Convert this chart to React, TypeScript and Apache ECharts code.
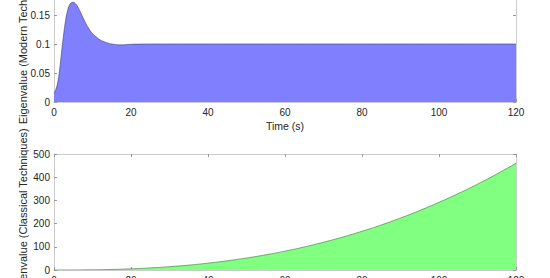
import React, { useEffect, useRef } from "react";
import * as echarts from "echarts";

const modernT = [0, 0.5, 1, 1.5, 2, 2.5, 3, 3.5, 4, 4.5, 5, 5.5, 6, 7, 8, 9, 10, 11, 12, 13, 14, 15, 16, 17, 18, 19, 20, 22, 25, 30, 40, 60, 80, 100, 120];
const modernV = [0.015, 0.022, 0.035, 0.058, 0.088, 0.116, 0.14, 0.157, 0.167, 0.171, 0.172, 0.17, 0.166, 0.153, 0.139, 0.127, 0.118, 0.112, 0.107, 0.104, 0.1015, 0.1, 0.099, 0.0985, 0.0985, 0.099, 0.0995, 0.0998, 0.1, 0.1, 0.1, 0.1, 0.1, 0.1, 0.1];

const classicalT = [0, 5, 10, 15, 20, 25, 30, 35, 40, 45, 50, 55, 60, 65, 70, 75, 80, 85, 90, 95, 100, 105, 110, 115, 120];
const classicalV = [0, 0.2, 0.9, 2.5, 5.2, 9.1, 14.4, 21.1, 29.5, 39.6, 51.6, 65.4, 81.3, 99.3, 119.6, 142, 167, 194, 224, 256.5, 291.6, 329.4, 370, 413.5, 460];

const xTicks = { min: 0, max: 120, interval: 20 };
const topY = { min: 0, max: 0.2, interval: 0.05 };
const botY = { min: 0, max: 500, interval: 100 };

const FONT = "'Liberation Sans', Arial, Helvetica, sans-serif";
const AXIS_COLOR = "#cccccc";
const TEXT_COLOR = "#262626";

export default function App() {
  const ref = useRef<HTMLDivElement>(null);
  useEffect(() => {
    if (!ref.current) return;
    const chart = echarts.init(ref.current, undefined, { renderer: "svg" });
    const line = { show: true, lineStyle: { color: AXIS_COLOR, width: 1 } };
    const tick = { show: true, inside: true, length: 3, lineStyle: { color: "#999999" } };
    const label = { color: TEXT_COLOR, fontSize: 10, fontFamily: FONT, margin: 5 };
    const mkX = (grid: number, name: string) => [
      {
        type: "value", gridIndex: grid, ...xTicks, position: "bottom",
        axisLine: { ...line, onZero: false }, axisTick: tick, axisLabel: label, splitLine: { show: false },
        name, nameLocation: "middle", nameGap: 18, nameMoveOverlap: false,
        nameTextStyle: { color: TEXT_COLOR, fontSize: 10.5, fontFamily: FONT },
      },
      {
        type: "value", gridIndex: grid, ...xTicks, position: "top",
        axisLine: { ...line, onZero: false }, axisTick: tick, axisLabel: { show: false }, splitLine: { show: false },
      },
    ];
    const mkY = (grid: number, r: any, name: string) => [
      {
        type: "value", gridIndex: grid, ...r, position: "left",
        axisLine: { ...line, onZero: false }, axisTick: tick,
        axisLabel: { ...label, margin: 4 }, splitLine: { show: false },
        name, nameLocation: "middle", nameGap: 26, nameMoveOverlap: false,
        nameTextStyle: { color: TEXT_COLOR, fontSize: 11, fontFamily: FONT },
      },
      {
        type: "value", gridIndex: grid, ...r, position: "right",
        axisLine: { ...line, onZero: false }, axisTick: tick, axisLabel: { show: false }, splitLine: { show: false },
      },
    ];
    chart.setOption({
      animation: false,
      backgroundColor: "#ffffff",
      grid: [
        { left: 54, right: 34, top: -14, height: 116, outerBoundsMode: "none", containLabel: false },
        { left: 54, right: 34, top: 154, height: 116, outerBoundsMode: "none", containLabel: false },
      ],
      xAxis: [...mkX(0, "Time (s)"), ...mkX(1, "")],
      yAxis: [
        ...mkY(0, topY, "Eigenvalue (Modern Techniques)"),
        ...mkY(1, botY, "Eigenvalue (Classical Techniques)"),
      ],
      series: [
        {
          type: "line", xAxisIndex: 0, yAxisIndex: 0, smooth: true, symbol: "none",
          data: modernT.map((t, i) => [t, modernV[i]]),
          lineStyle: { color: "#3a3a70", width: 0.6 },
          areaStyle: { color: "#8080ff", opacity: 1 },
        },
        {
          type: "line", xAxisIndex: 2, yAxisIndex: 2, smooth: true, symbol: "none",
          data: classicalT.map((t, i) => [t, classicalV[i]]),
          lineStyle: { color: "#3a703a", width: 0.6 },
          areaStyle: { color: "#80ff80", opacity: 1 },
        },
      ],
    });
    return () => chart.dispose();
  }, []);
  return <div ref={ref} style={{ width: 550, height: 278, position: "absolute", left: 0, top: 0 }} />;
}
